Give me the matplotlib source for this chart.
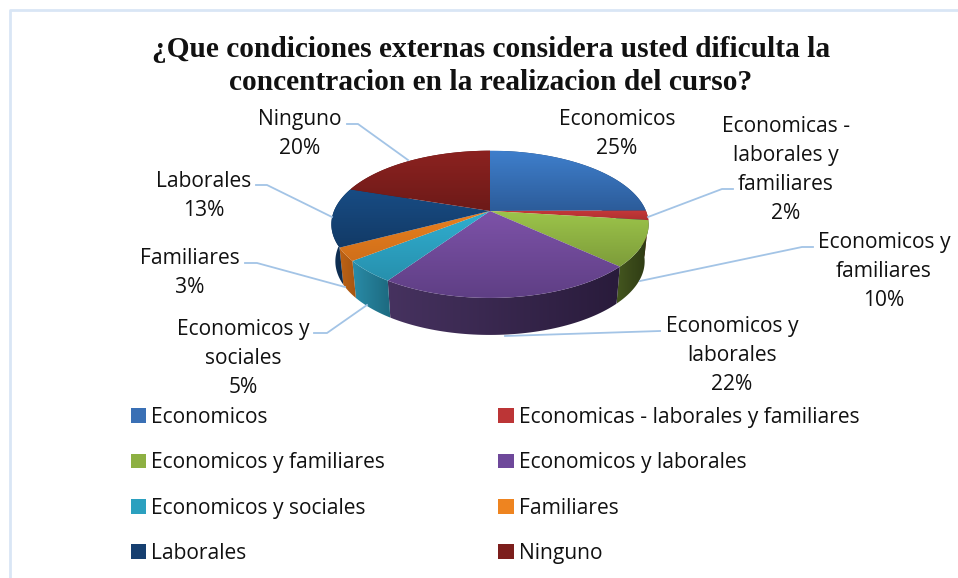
"""3D style pie chart of external conditions that make concentration harder."""

import matplotlib.pyplot as plt
import numpy as np
from matplotlib.colors import LinearSegmentedColormap
from matplotlib.patches import Patch, Polygon


categories = [
    "Economicos",
    "Economicas - laborales y familiares",
    "Economicos y familiares",
    "Economicos y laborales",
    "Economicos y sociales",
    "Familiares",
    "Laborales",
    "Ninguno",
]
percent_values = [24.9, 2.1, 10, 22.4, 4.9, 2.9, 13, 19.8]
label_names = [
    "Economicos",
    "Economicas -\nlaborales y\nfamiliares",
    "Economicos y\nfamiliares",
    "Economicos y\nlaborales",
    "Economicos y\nsociales",
    "Familiares",
    "Laborales",
    "Ninguno",
]
title_text = (
    "¿Que condiciones externas considera usted dificulta la\n"
    "concentracion en la realizacion del curso?"
)

top_light = ["#3f7fcc", "#c4393a", "#9cc44a", "#7d52a8", "#30aed0", "#e8801f", "#184c84", "#8c2220"]
top_dark = ["#2c5c9a", "#b03030", "#7d9c3a", "#5f3f85", "#2790ad", "#d06f1a", "#123a66", "#6d1a18"]
side_left = ["#1f4270", "#7d1f20", "#44561f", "#46325f", "#2a8ca8", "#bd6215", "#0f3258", "#5c1514"]
side_right = ["#1f4270", "#7d1f20", "#2c3812", "#291b3b", "#1d6a80", "#a55512", "#0d2744", "#5c1514"]
legend_colors = ["#3a70b5", "#bc3536", "#8db042", "#6e489a", "#2ba0bf", "#ee8420", "#163f70", "#7c1e1c"]

# pixel geometry of the pie, the picture is drawn in pixel coordinates
CX, CY = 490, 211
RX, RY = 156, 71.2
TILT = 0.181
DEPTH = 37
SHRINK = 0.975

FONT = "Open Sans"
LABEL_SIZE = 15.1
LINE_COLOR = "#a3c4e6"

# label anchor (centre x, top y) and leader line points, same order as categories
label_xy = [
    (617, 109), (786, 116), (884, 232), (732, 316),
    (243, 319), (190, 248), (204, 171), (300, 109),
]
leader_lines = [
    None,
    [(648, 217), (722, 189), (733, 189)],
    [(640, 281), (802, 247), (813, 247)],
    [(505, 336), (660, 331)],
    [(367, 305), (327, 333), (314, 333)],
    [(345, 287), (257, 263), (245, 263)],
    [(332, 217), (267, 185), (256, 185)],
    [(408, 160), (358, 124), (347, 124)],
]


def project(theta):
    """Map clockwise pie angles (0 at top) to screen points with perspective."""
    u, v = np.sin(theta), np.cos(theta)
    w = 1 + TILT * v
    return CX + RX * u / w, CY - RY * v / w


def gradient_fill(ax, points, color_a, color_b, horizontal=False, zorder=2):
    """Fill a polygon with a linear gradient clipped to its outline."""
    points = np.asarray(points)
    x0, y0 = points.min(axis=0)
    x1, y1 = points.max(axis=0)
    cmap = LinearSegmentedColormap.from_list("fill", [color_a, color_b])
    ramp = np.linspace(0, 1, 64)
    ramp = ramp[None, :] if horizontal else ramp[:, None]
    poly = Polygon(points, closed=True, facecolor="none", edgecolor="none", zorder=zorder)
    ax.add_patch(poly)
    im = ax.imshow(ramp, cmap=cmap, extent=(x0, x1, y1, y0), aspect="auto",
                   interpolation="bilinear", zorder=zorder)
    im.set_clip_path(poly)


def main():
    fig = plt.figure(figsize=(9.58, 5.78), dpi=100)
    ax = fig.add_axes([0, 0, 1, 1])

    # chart frame
    ax.plot([10, 10, 958], [578, 10, 10], color="#d9e6f5", lw=2, zorder=1)

    fractions = np.array(percent_values) / sum(percent_values)
    edges = np.concatenate([[0], np.cumsum(fractions)]) * 2 * np.pi

    # outer walls first, back slices before front ones
    order = np.argsort(-np.abs(((edges[:-1] + edges[1:]) / 2) - np.pi))
    for i in order:
        theta = np.linspace(edges[i], edges[i + 1], 60)
        x, y = project(theta)
        xb = CX + (x - CX) * SHRINK
        yb = y + DEPTH
        wall = np.column_stack([np.r_[x, xb[::-1]], np.r_[y, yb[::-1]]])
        gradient_fill(ax, wall, side_left[i], side_right[i], horizontal=True, zorder=2 + i * 0.01)

    # top faces share one vertical gradient band per slice
    for i in range(len(categories)):
        theta = np.linspace(edges[i], edges[i + 1], 60)
        x, y = project(theta)
        face = np.column_stack([np.r_[CX, x], np.r_[CY, y]])
        gradient_fill(ax, face, top_light[i], top_dark[i], zorder=3)

    # leader lines and data labels
    for line in leader_lines:
        if line is not None:
            xs, ys = zip(*line)
            ax.plot(xs, ys, color=LINE_COLOR, lw=1.3, zorder=4)
    for name, pct, (lx, ly) in zip(label_names, percent_values, label_xy):
        ax.text(lx, ly, f"{name}\n{pct:.0f}%", ha="center", va="top", family=FONT,
                fontsize=LABEL_SIZE, color="#111111", linespacing=1.5, zorder=5)

    ax.text(491, 36, title_text, ha="center", va="top", family="Liberation Serif",
            fontweight="bold", fontsize=21.2, color="#111111", linespacing=1.28, zorder=5)

    # legend is filled row by row in the reference
    handles = [Patch(facecolor=c, edgecolor="none") for c in legend_colors]
    order_rows = [0, 2, 4, 6, 1, 3, 5, 7]
    legend = ax.legend(
        [handles[i] for i in order_rows],
        [categories[i] for i in order_rows],
        ncols=2,
        loc="upper left",
        bbox_to_anchor=(131, 407),
        bbox_transform=ax.transData,
        frameon=False,
        borderpad=0,
        borderaxespad=0,
        handlelength=0.72,
        handleheight=0.72,
        handletextpad=0.25,
        labelspacing=1.16,
        columnspacing=5.4,
        prop={"family": FONT, "size": LABEL_SIZE},
    )
    for text in legend.get_texts():
        text.set_color("#111111")

    ax.set_xlim(0, 958)
    ax.set_ylim(578, 0)
    ax.axis("off")
    fig.savefig("out.png", dpi=100)
    plt.close(fig)


if __name__ == "__main__":
    main()
